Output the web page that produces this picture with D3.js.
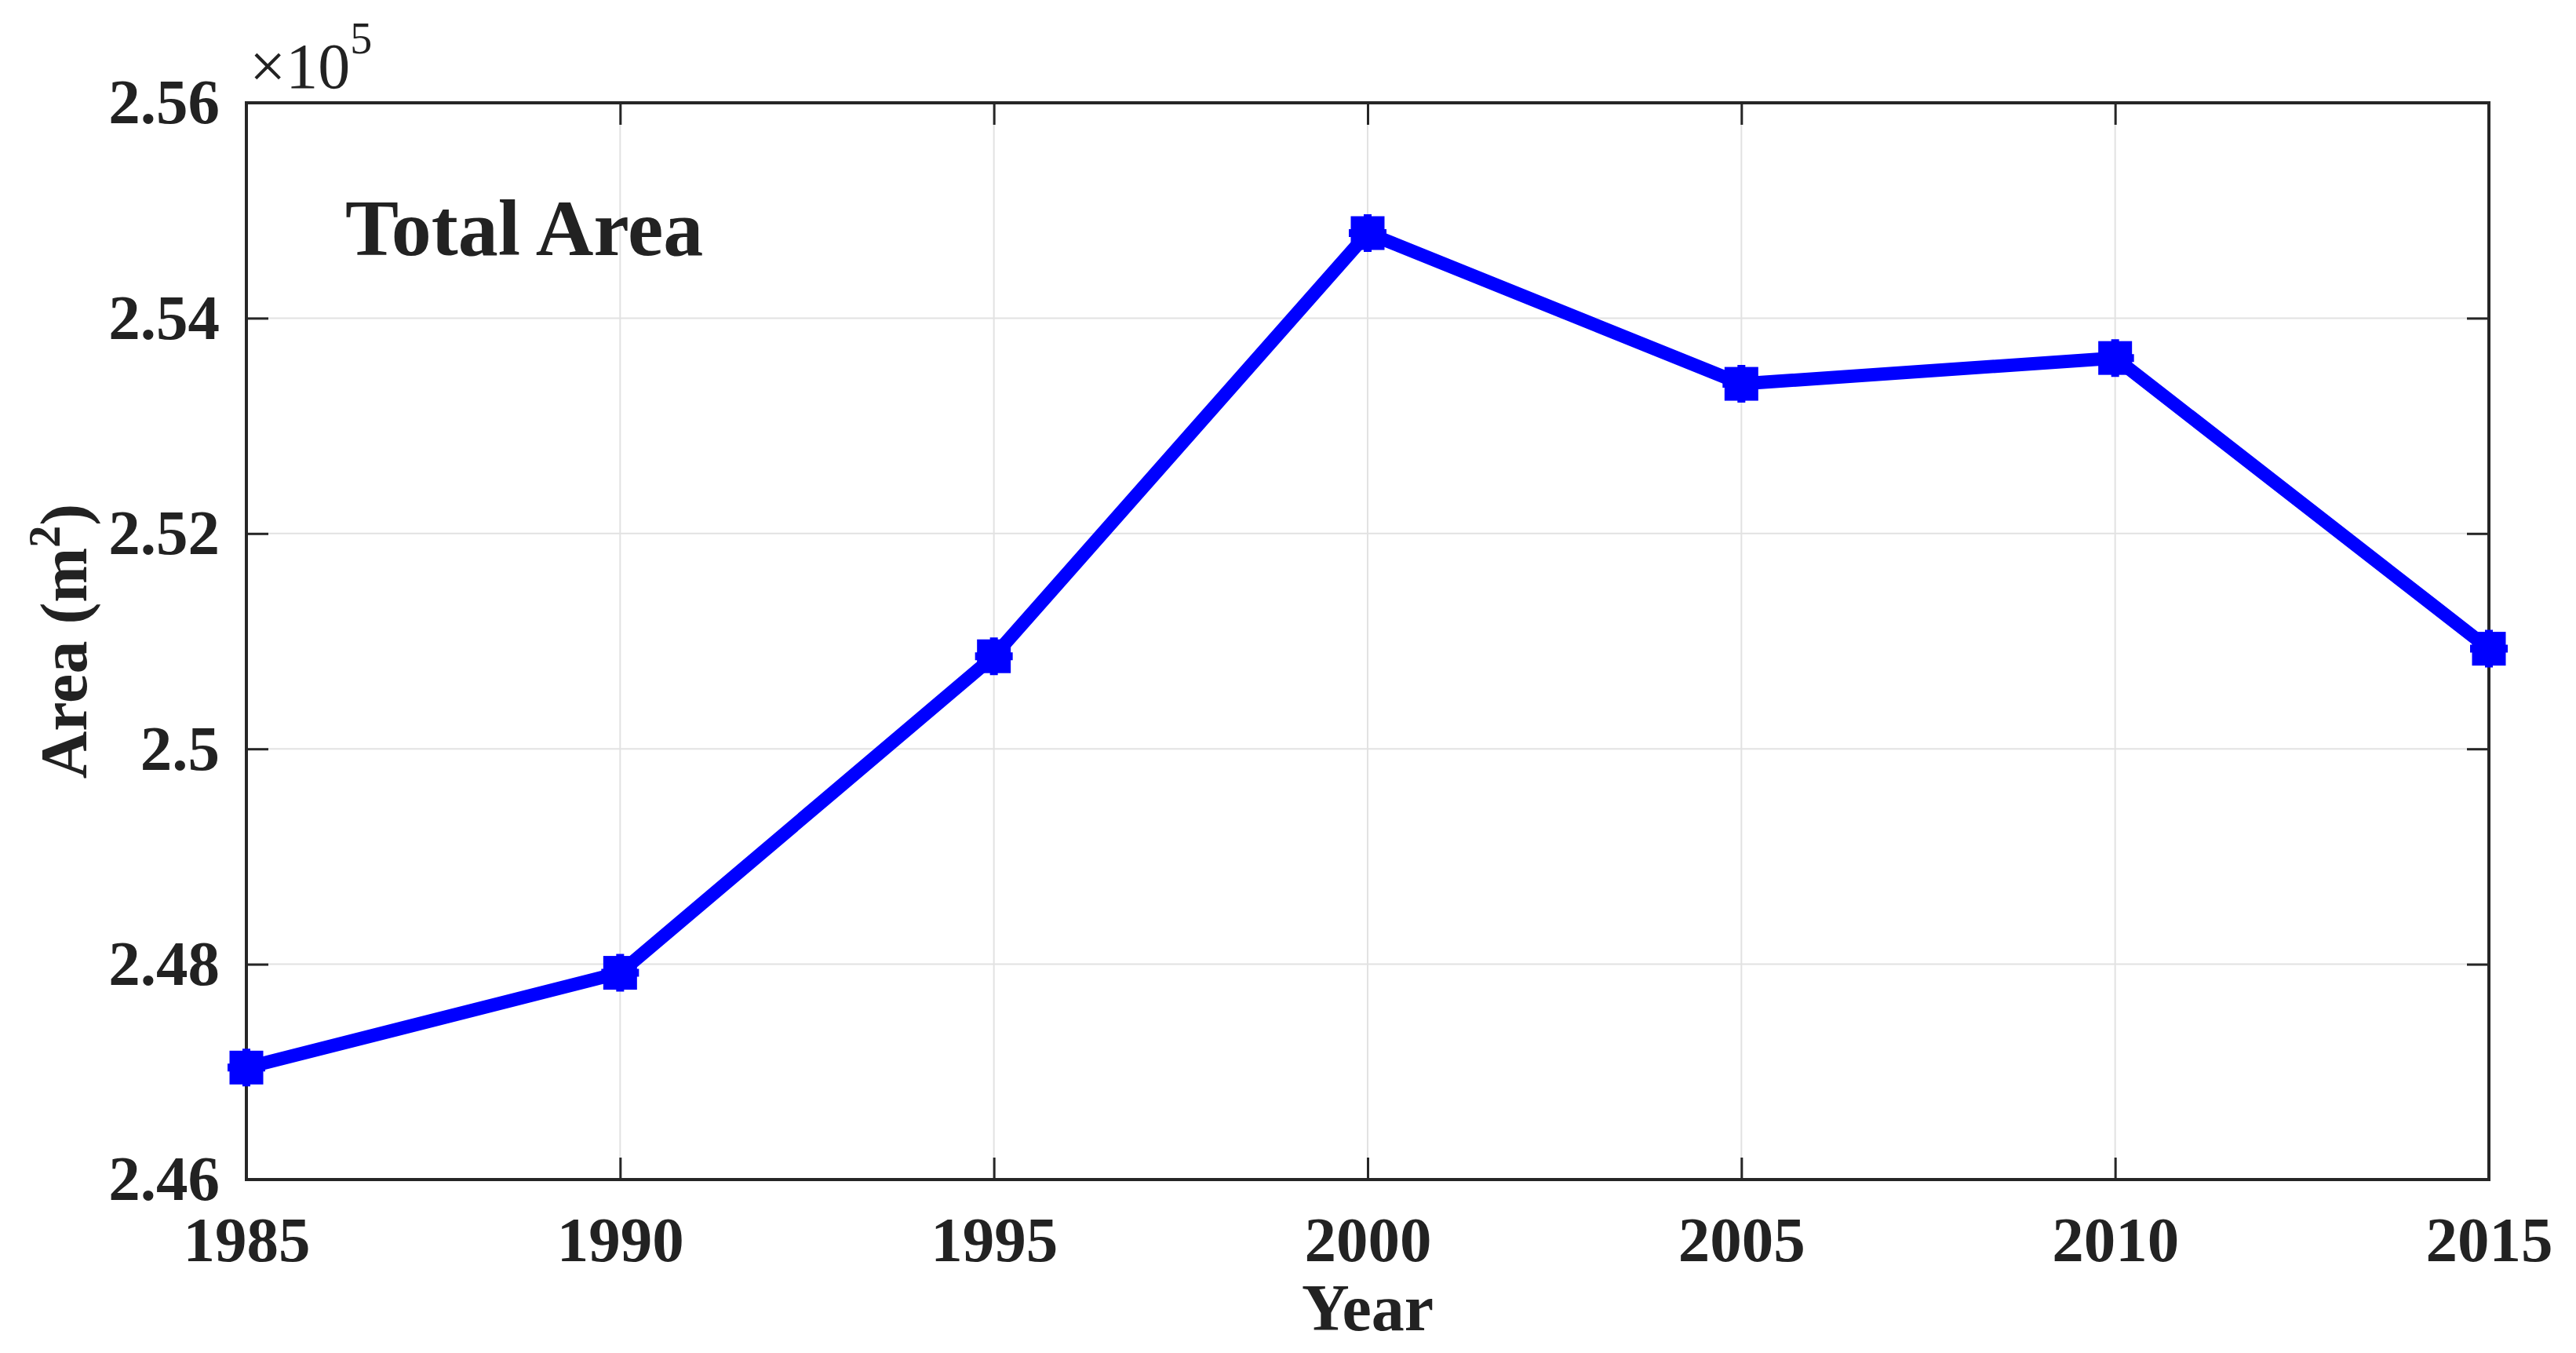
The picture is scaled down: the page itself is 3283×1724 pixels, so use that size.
<!DOCTYPE html><html><head><meta charset="utf-8"><script src="https://cdn.jsdelivr.net/npm/d3@7"></script>
<style>body{margin:0;background:#fff}text{font-family:"Liberation Serif","Times New Roman",serif;font-weight:bold;fill:#222}</style></head><body>
<script>
const years=[1985,1990,1995,2000,2005,2010,2015];
const area=[2.4704,2.4792,2.5086,2.5479,2.5339,2.5363,2.5093];
const yTicks=[2.46,2.48,2.5,2.52,2.54,2.56];
const W=3283,H=1724,L=314,R=3172,T=131,B=1503;
const svg=d3.select("body").append("svg").attr("width",W).attr("height",H);
const x=d3.scaleLinear().domain([1985,2015]).range([L,R]);
const y=d3.scaleLinear().domain([2.46,2.56]).range([B,T]);
const g=svg.append("g");
years.forEach(v=>g.append("line").attr("x1",x(v)).attr("x2",x(v)).attr("y1",T).attr("y2",B).attr("stroke","#e2e2e2").attr("stroke-width",2));
yTicks.forEach(v=>g.append("line").attr("x1",L).attr("x2",R).attr("y1",y(v)).attr("y2",y(v)).attr("stroke","#e2e2e2").attr("stroke-width",2));
const xa=svg.append("g").attr("transform",`translate(0,${B})`).call(d3.axisBottom(x).tickValues(years).tickFormat(d3.format("d")).tickSize(-28).tickPadding(46));
const ya=svg.append("g").attr("transform",`translate(${L},0)`).call(d3.axisLeft(y).tickValues(yTicks).tickFormat(d=>d3.format("")(+d.toFixed(2))).tickSize(-28).tickPadding(34));
[xa,ya].forEach(a=>{a.select(".domain").remove();a.selectAll("line").attr("stroke","#262626").attr("stroke-width",3);a.selectAll("text").style("font-size","81px").attr("fill","#222").style("font-family",'"Liberation Serif",serif').style("font-weight","bold");});
svg.append("g").attr("transform",`translate(${R},0)`).call(d3.axisRight(y).tickValues(yTicks).tickFormat("").tickSize(-28)).call(a=>{a.select(".domain").remove();a.selectAll("line").attr("stroke","#262626").attr("stroke-width",3);});
svg.append("g").attr("transform",`translate(0,${T})`).call(d3.axisTop(x).tickValues(years).tickFormat("").tickSize(-28)).call(a=>{a.select(".domain").remove();a.selectAll("line").attr("stroke","#262626").attr("stroke-width",3);});
svg.append("rect").attr("x",L).attr("y",T).attr("width",R-L).attr("height",B-T).attr("fill","none").attr("stroke","#262626").attr("stroke-width",4);
svg.append("path").datum(years.map((v,i)=>[v,area[i]])).attr("d",d3.line().x(d=>x(d[0])).y(d=>y(d[1]))).attr("fill","none").attr("stroke","#0000ff").attr("stroke-width",17).attr("stroke-linejoin","round");
const m=svg.selectAll(".m").data(years.map((v,i)=>[v,area[i]])).enter().append("g").attr("transform",d=>`translate(${x(d[0])},${y(d[1])})`);
m.append("rect").attr("x",-17).attr("y",-17).attr("width",34).attr("height",34).attr("fill","#0000ff").attr("stroke","#0000ff").attr("stroke-width",9);
m.append("path").attr("d","M-24,0H24M0,-24V24").attr("stroke","#0000ff").attr("stroke-width",10);
svg.append("text").attr("x",440).attr("y",325).style("font-size","102px").text("Total Area");
svg.append("text").attr("x",x(2000)).attr("y",1695).attr("text-anchor","middle").style("font-size","84px").text("Year");
svg.append("text").attr("transform",`translate(110,${(T+B)/2}) rotate(-90)`).attr("text-anchor","middle").style("font-size","84px").html('Area (m<tspan dy="-34" font-size="56">2</tspan><tspan dy="34">)</tspan>');
svg.append("text").attr("x",318).attr("y",112).style("font-weight","normal").style("font-size","82px").html('×10<tspan dy="-44" font-size="56">5</tspan>');
</script></body></html>
